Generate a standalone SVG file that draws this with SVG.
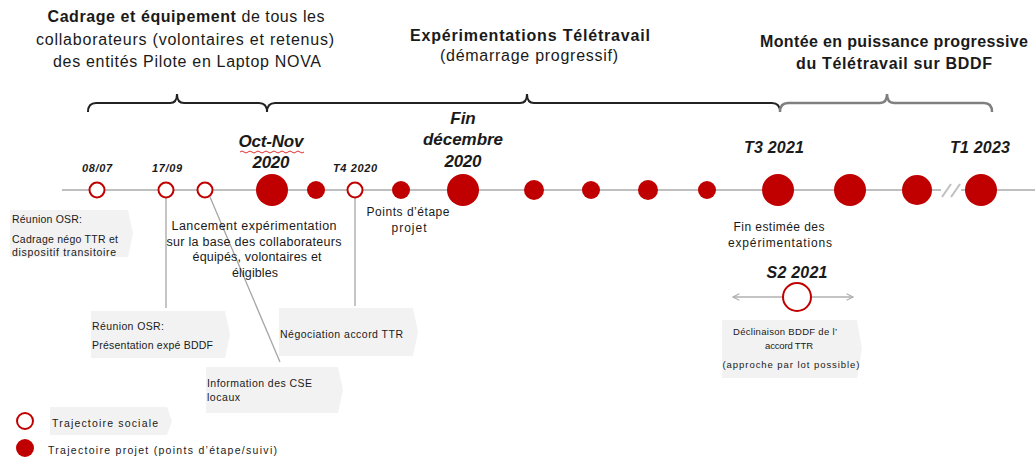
<svg xmlns="http://www.w3.org/2000/svg" width="1035" height="460" viewBox="0 0 1035 460">
<defs>
<style>
text{font-family:"Liberation Sans",Arial,sans-serif;fill:#1a1a1a}
.h{font-size:16px;text-anchor:middle}
.b{font-weight:bold}
.dt{font-weight:bold;font-style:italic;text-anchor:middle}
.sm{font-size:10.5px}
.mid{text-anchor:middle}
.box{fill:#f2f2f2}
.open{fill:#fff;stroke:#c00000;stroke-width:2}
.fill{fill:#c00000}
.lk{stroke:#a6a6a6;stroke-width:1.3;fill:none}
</style>
<marker id="ah" viewBox="0 0 10 10" refX="9" refY="5" markerWidth="8" markerHeight="8" orient="auto-start-reverse" markerUnits="userSpaceOnUse">
<path d="M1,1 L9,5 L1,9" fill="none" stroke="#b0b0b0" stroke-width="1.5"/>
</marker>
</defs>
<rect width="1035" height="460" fill="#fff"/>

<!-- headers -->
<g id="header-cadrage">
<text class="h" x="186" y="22" textLength="277" lengthAdjust="spacing"><tspan class="b">Cadrage et équipement</tspan> de tous les</text>
<text class="h" x="185" y="45" textLength="298" lengthAdjust="spacing">collaborateurs (volontaires et retenus)</text>
<text class="h" x="187" y="67" textLength="268" lengthAdjust="spacing">des entités Pilote en Laptop NOVA</text>
</g>
<g id="header-experimentations">
<text class="h b" x="530" y="41" textLength="240" lengthAdjust="spacing">Expérimentations Télétravail</text>
<text class="h" x="529" y="61" textLength="178" lengthAdjust="spacing">(démarrage progressif)</text>
</g>
<g id="header-montee">
<text class="h b" x="894" y="47" textLength="268" lengthAdjust="spacing">Montée en puissance progressive</text>
<text class="h b" x="894" y="69" textLength="196" lengthAdjust="spacing">du Télétravail sur BDDF</text>
</g>

<!-- braces -->
<g id="braces" fill="none" stroke-width="2">
<path stroke="#222" d="M88,112 Q88,103 96,103 L170,103 Q177,103 177,94 Q177,103 184,103 L259,103 Q267,103 267,112"/>
<path stroke="#222" d="M267,112 Q267,103 275,103 L520,103 Q527,103 527,94 Q527,103 534,103 L772,103 Q780,103 780,112"/>
<path stroke="#7f7f7f" stroke-width="2.5" d="M780,112 Q780,103 788,103 L880,103 Q887,103 887,94 Q887,103 894,103 L984,103 Q992,103 992,112"/>
</g>

<!-- connectors -->
<g id="connectors">
<line x1="62" y1="190" x2="1035" y2="190" stroke="#bfbfbf" stroke-width="2"/>
<rect x="941" y="183" width="20" height="14" fill="#fff"/>
<line x1="942" y1="197" x2="951" y2="184" stroke="#bfbfbf" stroke-width="2"/>
<line x1="951" y1="197" x2="960" y2="184" stroke="#bfbfbf" stroke-width="2"/>
<line class="lk" x1="166" y1="198" x2="166" y2="308"/>
<line class="lk" x1="210" y1="197" x2="280" y2="362"/>
<line class="lk" x1="355" y1="198" x2="355" y2="306"/>
<line x1="783" y1="297" x2="733" y2="297" stroke="#b0b0b0" stroke-width="1.5" marker-end="url(#ah)"/>
<line x1="811" y1="297" x2="853" y2="297" stroke="#b0b0b0" stroke-width="1.5" marker-end="url(#ah)"/>
</g>

<!-- timeline nodes -->
<g id="n-0807"><circle class="open" cx="97" cy="190" r="7.5"/><text class="dt" x="97" y="172" font-size="11" textLength="30" lengthAdjust="spacing">08/07</text></g>
<g id="n-1709"><circle class="open" cx="166" cy="190" r="7.5"/><text class="dt" x="167" y="172" font-size="11" textLength="30" lengthAdjust="spacing">17/09</text></g>
<g id="n-lancement"><circle class="open" cx="205" cy="190" r="7.5"/></g>
<g id="n-octnov"><circle class="fill" cx="272" cy="190" r="16"/>
<text class="dt" x="271" y="147" font-size="17" textLength="65" lengthAdjust="spacing">Oct-Nov</text>
<path d="M240,152 q2,-2 4,0 t4,0 t4,0 t4,0 t4,0 t4,0 t4,0 t4,0 t4,0 t4,0 t4,0 t4,0 t4,0 t4,0 t4,0 t4,0" fill="none" stroke="#e03030" stroke-width="1"/>
<text class="dt" x="271" y="168" font-size="17" textLength="37" lengthAdjust="spacing">2020</text></g>
<g id="n-p1"><circle class="fill" cx="316" cy="190" r="9"/></g>
<g id="n-t4"><circle class="open" cx="355" cy="190" r="7.5"/><text class="dt" x="355" y="172" font-size="11" textLength="44" lengthAdjust="spacing">T4 2020</text></g>
<g id="n-p2"><circle class="fill" cx="401" cy="190" r="9"/></g>
<g id="n-findec"><circle class="fill" cx="463" cy="190" r="16"/>
<text class="dt" x="463" y="124" font-size="17">Fin</text>
<text class="dt" x="463" y="145" font-size="17" textLength="80" lengthAdjust="spacing">décembre</text>
<text class="dt" x="463" y="167" font-size="17" textLength="37" lengthAdjust="spacing">2020</text></g>
<g id="n-p3"><circle class="fill" cx="534" cy="190" r="10"/></g>
<g id="n-p4"><circle class="fill" cx="591" cy="190" r="9"/></g>
<g id="n-p5"><circle class="fill" cx="648" cy="190" r="10"/></g>
<g id="n-p6"><circle class="fill" cx="707" cy="190" r="9"/></g>
<g id="n-t3"><circle class="fill" cx="778" cy="190" r="16"/><text class="dt" x="774" y="153" font-size="16" textLength="60" lengthAdjust="spacing">T3 2021</text></g>
<g id="n-p7"><circle class="fill" cx="850" cy="190" r="16"/></g>
<g id="n-p8"><circle class="fill" cx="917" cy="190" r="15"/></g>
<g id="n-t1"><circle class="fill" cx="981" cy="190" r="16"/><text class="dt" x="980" y="153" font-size="16" textLength="60" lengthAdjust="spacing">T1 2023</text></g>

<!-- annotations -->
<g id="box-osr1">
<path class="box" d="M10,210 H128 L133,233.5 L128,257 H10 Z"/>
<text class="sm" x="12" y="223" font-size="9.5" textLength="70" lengthAdjust="spacing">Réunion OSR:</text>
<text class="sm" x="12" y="243" textLength="106" lengthAdjust="spacing">Cadrage négo TTR et</text>
<text class="sm" x="12" y="256" textLength="104" lengthAdjust="spacing">dispositif transitoire</text>
</g>
<g id="txt-lancement" font-size="12.5">
<text class="mid" x="254" y="230" textLength="165" lengthAdjust="spacing">Lancement expérimentation</text>
<text class="mid" x="254" y="246" textLength="175" lengthAdjust="spacing">sur la base des collaborateurs</text>
<text class="mid" x="257" y="261" textLength="129" lengthAdjust="spacing">équipés, volontaires et</text>
<text class="mid" x="255" y="277" textLength="46" lengthAdjust="spacing">éligibles</text>
</g>
<g id="txt-points" font-size="12">
<text class="mid" x="408" y="216" textLength="83" lengthAdjust="spacing">Points d’étape</text>
<text class="mid" x="409" y="232" textLength="35" lengthAdjust="spacing">projet</text>
</g>
<g id="txt-finestimee" font-size="12">
<text class="mid" x="779" y="231" textLength="91" lengthAdjust="spacing">Fin estimée des</text>
<text class="mid" x="780" y="247" textLength="104" lengthAdjust="spacing">expérimentations</text>
</g>
<g id="box-osr2">
<path class="box" d="M91,311 H225 L230,334.5 L225,358 H91 Z"/>
<text class="sm" x="92" y="330" font-size="9.5" textLength="72" lengthAdjust="spacing">Réunion OSR:</text>
<text class="sm" x="92" y="349" textLength="121" lengthAdjust="spacing">Présentation expé BDDF</text>
</g>
<g id="box-nego">
<path class="box" d="M279,308 H413 L418,332 L413,356 H279 Z"/>
<text class="sm" x="280" y="338" textLength="123" lengthAdjust="spacing">Négociation accord TTR</text>
</g>
<g id="box-cse">
<path class="box" d="M206,367 H338 L343,390 L338,413 H206 Z"/>
<text class="sm" x="207" y="387" textLength="105" lengthAdjust="spacing">Information des CSE</text>
<text class="sm" x="207" y="401" textLength="33" lengthAdjust="spacing">locaux</text>
</g>
<g id="n-s2">
<text class="dt" x="797" y="278" font-size="16" textLength="61" lengthAdjust="spacing">S2 2021</text>
<circle class="open" cx="797" cy="297" r="14"/>
</g>
<g id="box-declinaison" font-size="9.5">
<path class="box" d="M722,320 H857 L862,349 L857,378 H722 Z"/>
<text class="mid" x="785" y="335" textLength="104" lengthAdjust="spacing">Déclinaison BDDF de l’</text>
<text class="mid" x="789" y="349" textLength="48" lengthAdjust="spacing">accord TTR</text>
<text class="mid" x="791" y="368" textLength="137" lengthAdjust="spacing">(approche par lot possible)</text>
</g>

<!-- legend -->
<g id="legend-sociale">
<circle class="open" cx="25" cy="421" r="8"/>
<path class="box" d="M50,407 H167 L172,421 L167,435 H50 Z"/>
<text class="sm" x="52" y="427" textLength="106" lengthAdjust="spacing">Trajectoire sociale</text>
</g>
<g id="legend-projet">
<circle class="fill" cx="25" cy="448" r="9"/>
<text class="sm" x="48" y="454" textLength="229" lengthAdjust="spacing">Trajectoire projet (points d’étape/suivi)</text>
</g>
</svg>
